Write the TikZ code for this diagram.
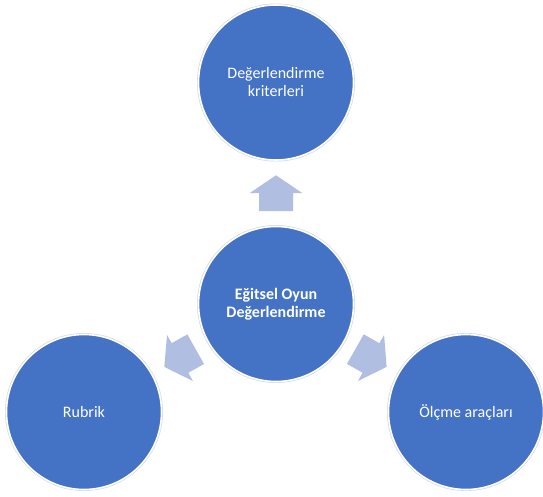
\documentclass[tikz,border=0pt]{standalone}
\usepackage{fontspec}
\setmainfont{Carlito}
\usetikzlibrary{calc}

\definecolor{discblue}{HTML}{4472C4}
\definecolor{arrowblue}{HTML}{B0BFE1}
\definecolor{rimgray}{HTML}{D9D9D9}

\tikzset{
  disc/.style={circle, minimum size=155pt, inner sep=0pt, fill=discblue,
    draw=white, line width=1.6pt, text=white, align=center,
    font=\fontsize{16}{18}\selectfont,
    preaction={draw=rimgray, line width=3pt}},
  hubdisc/.style={disc, font=\fontsize{16}{18}\selectfont\bfseries},
  blockarrow/.pic={
    \fill[arrowblue] (-18pt,17pt) -- (0pt,17pt) -- (0pt,26.5pt) -- (18pt,0pt)
      -- (0pt,-26.5pt) -- (0pt,-17pt) -- (-18pt,-17pt) -- cycle;
  }
}

\begin{document}
\begin{tikzpicture}[x=1pt, y=1pt]
  \useasboundingbox (0,0) rectangle (543,496);

  % hub and the three surrounding topics
  \node[hubdisc] (hub)   at (276,192)   {Eğitsel Oyun\\Değerlendirme};
  \node[disc]    (crit)  at (276,413.5) {Değerlendirme\\kriterleri};
  \node[disc]    (rub)   at (84,84)     {Rubrik};
  \node[disc]    (tools) at (466,84)    {Ölçme araçları};

  % block arrows halfway between the hub and each topic
  \foreach \target in {crit, rub, tools} {
    \path let \p1 = ($(\target)-(hub)$), \n1 = {atan2(\y1,\x1)} in
      pic[rotate=\n1] at ($(hub)!0.5!(\target)$) {blockarrow};
  }
\end{tikzpicture}
\end{document}
